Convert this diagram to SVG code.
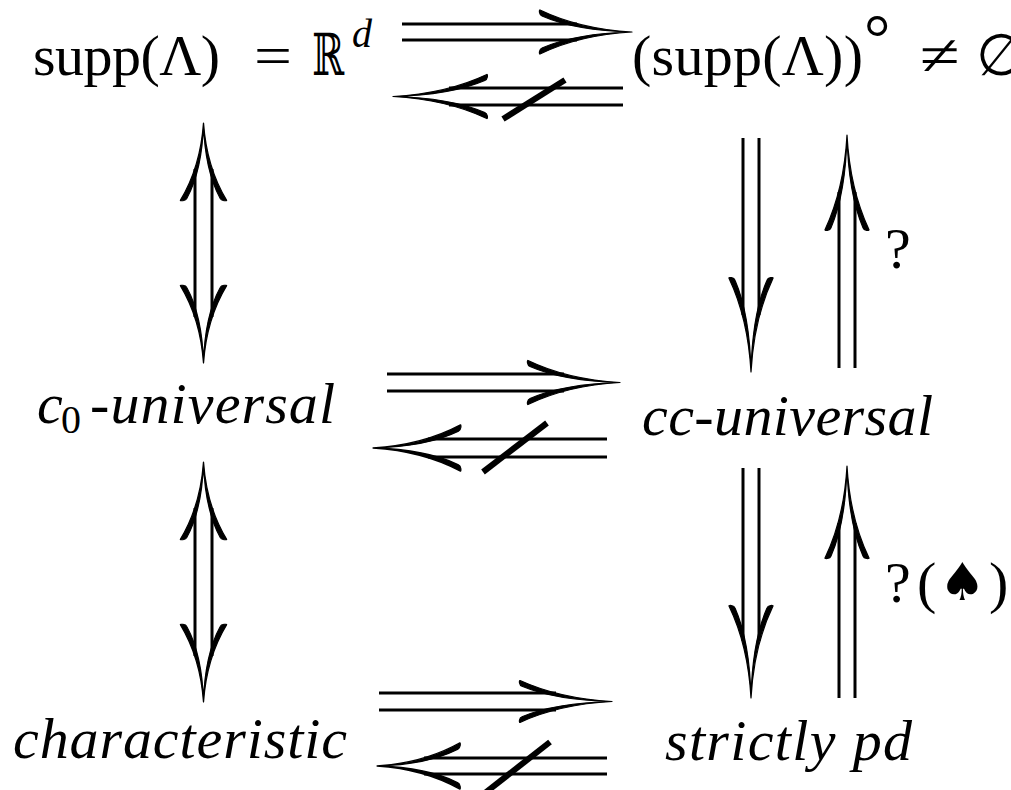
<svg xmlns="http://www.w3.org/2000/svg" width="1011" height="790" viewBox="0 0 1011 790">
<style>
text{font-family:"Liberation Serif","Times New Roman","DejaVu Serif",serif;font-size:58px;fill:#000}
.it{font-style:italic}
.ln{stroke:#000;stroke-width:3;fill:none}
.sl{stroke:#000;stroke-width:6;stroke-linecap:butt}
.hd{fill:#000;stroke:#000;stroke-width:1.2;stroke-linejoin:round}
</style>
<defs>
<path id="hd" class="hd" d="M0,0 C-35,-2 -65,-9 -92,-22 C-93,-22.5 -93,-17 -90,-16 C-65,-5 -35,-0.8 0,0 Z M0,0 C-35,2 -65,9 -92,22 C-93,22.5 -93,17 -90,16 C-65,5 -35,0.8 0,0 Z"/>
</defs>
<rect width="1011" height="790" fill="#fff"/>
<g id="connectors">
  <line class="ln" x1="402" y1="24" x2="577" y2="24"/>
  <line class="ln" x1="402" y1="40" x2="577" y2="40"/>
  <use href="#hd" transform="translate(632,32)"/>
  <line class="ln" x1="449" y1="88" x2="623" y2="88"/>
  <line class="ln" x1="449" y1="105" x2="623" y2="105"/>
  <use href="#hd" transform="translate(393,96.5) rotate(180) scale(1.02,1)"/>
  <line class="sl" x1="503" y1="119" x2="565" y2="80"/>
  <line class="ln" x1="387" y1="374" x2="564" y2="374"/>
  <line class="ln" x1="387" y1="391" x2="564" y2="391"/>
  <use href="#hd" transform="translate(620,382.5)"/>
  <line class="ln" x1="428" y1="439" x2="607" y2="439"/>
  <line class="ln" x1="428" y1="457" x2="607" y2="457"/>
  <use href="#hd" transform="translate(373,448) rotate(180) scale(0.95,1.05)"/>
  <line class="sl" x1="483" y1="472" x2="547" y2="423"/>
  <line class="ln" x1="379" y1="693" x2="556" y2="693"/>
  <line class="ln" x1="379" y1="710" x2="556" y2="710"/>
  <use href="#hd" transform="translate(612,701.5) scale(1,0.95)"/>
  <line class="ln" x1="424" y1="758" x2="607" y2="758"/>
  <line class="ln" x1="424" y1="774" x2="607" y2="774"/>
  <use href="#hd" transform="translate(377,766) rotate(180) scale(0.9,1.05)"/>
  <line class="sl" x1="485" y1="793" x2="550" y2="742"/>
  <line class="ln" x1="195" y1="169" x2="195" y2="317"/>
  <line class="ln" x1="212" y1="169" x2="212" y2="317"/>
  <use href="#hd" transform="translate(203.5,123) rotate(-90) scale(0.84,1.05)"/>
  <use href="#hd" transform="translate(203.5,363) rotate(90) scale(0.84,1.05)"/>
  <line class="ln" x1="195" y1="508" x2="195" y2="656"/>
  <line class="ln" x1="212" y1="508" x2="212" y2="656"/>
  <use href="#hd" transform="translate(203.5,462) rotate(-90) scale(0.84,1.05)"/>
  <use href="#hd" transform="translate(203.5,702) rotate(90) scale(0.84,1.05)"/>
  <line class="ln" x1="743" y1="138" x2="743" y2="315"/>
  <line class="ln" x1="759" y1="138" x2="759" y2="315"/>
  <use href="#hd" transform="translate(751,372) rotate(90) scale(1.02,1)"/>
  <line class="ln" x1="839" y1="192" x2="839" y2="368"/>
  <line class="ln" x1="855" y1="192" x2="855" y2="368"/>
  <use href="#hd" transform="translate(847,135) rotate(-90) scale(1.03,1)"/>
  <line class="ln" x1="743" y1="468" x2="743" y2="641"/>
  <line class="ln" x1="759" y1="468" x2="759" y2="641"/>
  <use href="#hd" transform="translate(751,698) rotate(90)"/>
  <line class="ln" x1="839" y1="523" x2="839" y2="698"/>
  <line class="ln" x1="855" y1="523" x2="855" y2="698"/>
  <use href="#hd" transform="translate(847,466) rotate(-90)"/>
</g>
<g id="node-supp">
  <text x="33" y="75" textLength="187">supp(Λ)</text>
  <text x="254" y="75" textLength="38" lengthAdjust="spacingAndGlyphs">=</text>
  <text x="312" y="75" textLength="32" lengthAdjust="spacingAndGlyphs">ℝ</text>
  <text class="it" x="352" y="47" style="font-size:40px">d</text>
</g>
<g id="node-interior">
  <text x="632" y="75" textLength="231">(supp(Λ))</text>
  <text x="864" y="60" style="font-size:66px">°</text>
  <text x="920" y="75" textLength="40" lengthAdjust="spacingAndGlyphs">≠</text>
  <text x="976" y="75">∅</text>
</g>
<g id="node-c0">
  <text class="it" x="37" y="423">c</text>
  <text x="61" y="433" style="font-size:40px">0</text>
  <text class="it" x="90" y="423" textLength="245">-universal</text>
</g>
<g id="node-cc">
  <text class="it" x="642" y="435" textLength="291">cc-universal</text>
</g>
<g id="node-char">
  <text class="it" x="13" y="758" textLength="334">characteristic</text>
</g>
<g id="node-spd">
  <text class="it" x="665" y="760" textLength="247">strictly pd</text>
</g>
<g id="labels">
  <text x="885" y="268">?</text>
  <text x="885" y="602">?</text>
  <text x="917" y="602">(</text>
  <text x="939" y="600" style="font-family:'DejaVu Sans',sans-serif;font-size:52px">♠</text>
  <text x="989" y="602">)</text>
</g>
</svg>
